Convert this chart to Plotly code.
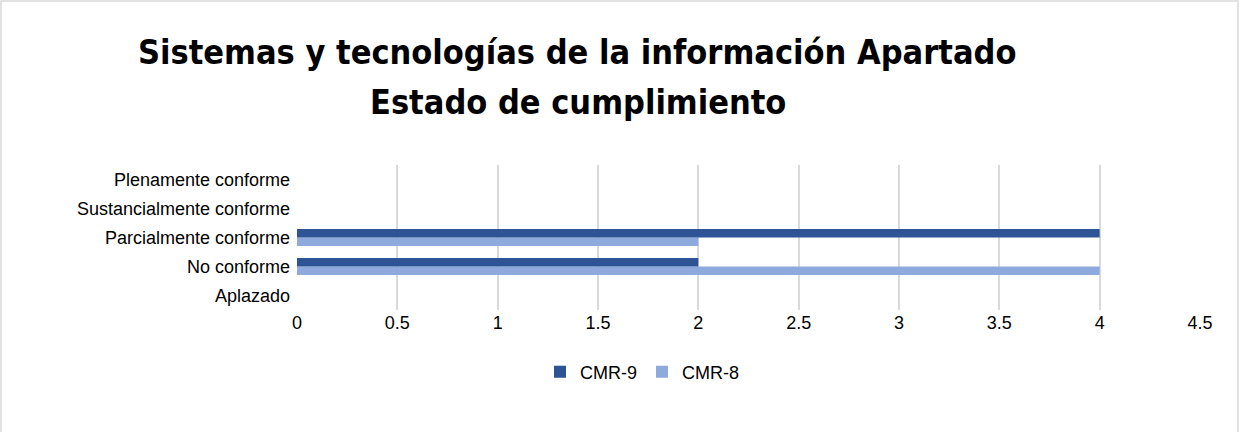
import plotly.graph_objects as go

# categories listed bottom -> top
categories = ["Aplazado", "No conforme", "Parcialmente conforme",
              "Sustancialmente conforme", "Plenamente conforme"]
cmr9 = [0, 2, 4, 0, 0]
cmr8 = [0, 4, 2, 0, 0]
x_ticks = [0, 0.5, 1, 1.5, 2, 2.5, 3, 3.5, 4, 4.5]
x_tick_text = ["0", "0.5", "1", "1.5", "2", "2.5", "3", "3.5", "4", "4.5"]

W, H = 1241, 432
L, R, T, B = 297, 41, 165, 122
pw, ph = W - L - R, H - T - B

TICK_FONT = "Liberation Sans"
TITLE_FONT = "DejaVu Sans Condensed"

fig = go.Figure()
# CMR-8 first so it sits below CMR-9 in each group
fig.add_trace(go.Bar(y=categories, x=cmr8, name="CMR-8", orientation="h",
                     marker=dict(color="#8EA9DB", line=dict(width=0))))
fig.add_trace(go.Bar(y=categories, x=cmr9, name="CMR-9", orientation="h",
                     marker=dict(color="#2F5496", line=dict(width=0))))

fig.update_layout(
    width=W, height=H,
    margin=dict(l=L, r=R, t=T, b=B),
    paper_bgcolor="white", plot_bgcolor="white",
    barmode="group", bargap=0.42, bargroupgap=0,
    showlegend=True,
    legend=dict(orientation="h", traceorder="reversed", x=(642 - L) / pw, xanchor="center",
                y=-(372 - (T + ph)) / ph, yanchor="middle",
                font=dict(family=TICK_FONT, size=18, color="#000000"),
                itemwidth=30),
    font=dict(family=TICK_FONT, color="#000000"),
)
fig.update_xaxes(range=[0, 4.5], tickvals=x_ticks, ticktext=x_tick_text,
                 showgrid=True, gridcolor="#D9D9D9", gridwidth=1.5,
                 zeroline=False, showline=False, ticks="",
                 tickfont=dict(family=TICK_FONT, size=18, color="#000000"))
fig.update_yaxes(categoryorder="array", categoryarray=categories,
                 showgrid=False, zeroline=False, showline=False, ticks="",
                 ticklabelstandoff=6,
                 tickfont=dict(family=TICK_FONT, size=18, color="#000000"))

fig.add_annotation(text="<b>Sistemas y tecnologías de la información Apartado</b>",
                   xref="paper", yref="paper", x=(577 - L) / pw, y=(T + ph - 52) / ph,
                   xanchor="center", yanchor="middle", showarrow=False,
                   font=dict(family=TITLE_FONT, size=34, color="#000000"))
fig.add_annotation(text="<b>Estado de cumplimiento</b>",
                   xref="paper", yref="paper", x=(578 - L) / pw, y=(T + ph - 102) / ph,
                   xanchor="center", yanchor="middle", showarrow=False,
                   font=dict(family=TITLE_FONT, size=34, color="#000000"))

# outer chart frame
fig.add_shape(type="rect", xref="paper", yref="paper", layer="below",
              x0=(1 - L) / pw, x1=(1238 - L) / pw,
              y0=(T + ph - 440) / ph, y1=(T + ph - 1) / ph,
              line=dict(color="#D9D9D9", width=1.5), fillcolor="rgba(0,0,0,0)")

fig.write_html("out.html", config={"displayModeBar": False},
               post_script="document.body.style.margin='0';")
